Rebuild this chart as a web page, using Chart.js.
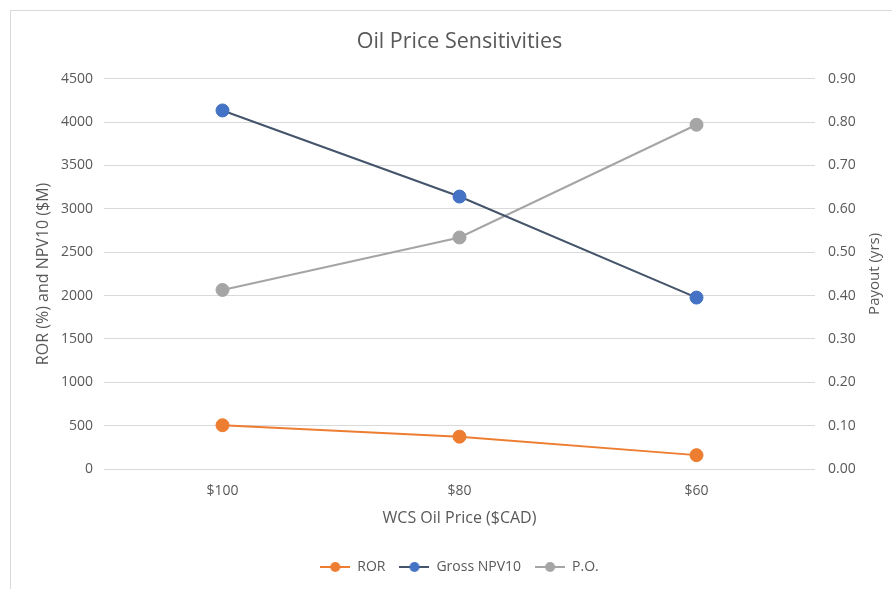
<!DOCTYPE html>
<html>
<head>
<meta charset="utf-8">
<script src="https://cdn.jsdelivr.net/npm/chart.js@4/dist/chart.umd.min.js"></script>
<style>
  html, body { margin: 0; padding: 0; background: #fff; overflow: hidden; }
  #frame { position: absolute; left: 10px; top: 10px; width: 900px; height: 600px;
           border: 1px solid #d9d9d9; box-sizing: border-box; }
  #wrap { position: absolute; left: 0; top: 0; width: 892px; height: 589px; }
</style>
</head>
<body>
<div id="frame"></div>
<div id="wrap"><canvas id="c"></canvas></div>
<script>
// Oil price cases on the x axis
const prices = ['$100', '$80', '$60'];
// Rate of return (%) per price case
const ror = [505, 373, 160];
// Gross NPV10 ($M) per price case
const npv10 = [4135, 3142, 1977];
// Payout (years) per price case
const payout = [0.413, 0.534, 0.794];

const FONT = "'Open Sans', 'Liberation Sans', sans-serif";
const TEXT = '#595959';
const GRID = '#d9d9d9';
const TICK_SIZE = 14;

// Legend swatch: short line with a dot in the middle
function swatch(lineColor, dotColor) {
  const cv = document.createElement('canvas');
  cv.width = 30; cv.height = 12;
  const g = cv.getContext('2d');
  g.strokeStyle = lineColor; g.lineWidth = 2;
  g.beginPath(); g.moveTo(0, 6); g.lineTo(30, 6); g.stroke();
  g.fillStyle = dotColor;
  g.beginPath(); g.arc(15, 6, 5, 0, Math.PI * 2); g.fill();
  return cv;
}

const series = [
  { label: 'ROR', data: ror, line: '#ED7D31', dot: '#ED7D31', axis: 'y' },
  { label: 'Gross NPV10', data: npv10, line: '#44546A', dot: '#4472C4', axis: 'y' },
  { label: 'P.O.', data: payout, line: '#A5A5A5', dot: '#A5A5A5', axis: 'y1' }
];

// Right axis title, read bottom-to-top
const rightTitle = {
  id: 'rightTitle',
  afterDraw(chart) {
    const { ctx, chartArea } = chart;
    ctx.save();
    ctx.translate(875, (chartArea.top + chartArea.bottom) / 2);
    ctx.rotate(-Math.PI / 2);
    ctx.font = '15px ' + FONT;
    ctx.fillStyle = TEXT;
    ctx.textAlign = 'center';
    ctx.textBaseline = 'middle';
    ctx.fillText('Payout (yrs)', 0, 0);
    ctx.restore();
  }
};

new Chart(document.getElementById('c'), {
  type: 'line',
  data: {
    labels: prices,
    datasets: series.map(s => ({
      label: s.label,
      data: s.data,
      yAxisID: s.axis,
      borderColor: s.line,
      backgroundColor: s.dot,
      pointBackgroundColor: s.dot,
      pointBorderColor: s.dot,
      borderWidth: 2,
      pointRadius: 6.5,
      pointHoverRadius: 6.5,
      pointBorderWidth: 1,
      tension: 0,
      fill: false
    }))
  },
  options: {
    responsive: true,
    maintainAspectRatio: false,
    animation: false,
    layout: { padding: { left: 0, right: 0, top: 0, bottom: 5 } },
    plugins: {
      tooltip: { enabled: false },
      title: {
        display: true,
        text: 'Oil Price Sensitivities',
        fullSize: false,
        color: TEXT,
        font: { family: FONT, size: 21.5, weight: 'normal' },
        padding: { top: 29, bottom: 24 }
      },
      legend: {
        position: 'bottom',
        fullSize: false,
        labels: {
          usePointStyle: true,
          pointStyleWidth: 30,
          color: TEXT,
          font: { family: FONT, size: TICK_SIZE },
          padding: 14,
          generateLabels(chart) {
            return series.map((s, i) => ({
              text: s.label,
              fillStyle: s.dot,
              strokeStyle: s.line,
              fontColor: TEXT,
              lineWidth: 0,
              pointStyle: swatch(s.line, s.dot),
              hidden: false,
              datasetIndex: i
            }));
          }
        }
      }
    },
    scales: {
      x: {
        type: 'category',
        offset: true,
        grid: { display: false, drawTicks: false },
        border: { display: false },
        ticks: { color: TEXT, font: { family: FONT, size: TICK_SIZE }, padding: 14 },
        title: {
          display: true,
          text: 'WCS Oil Price ($CAD)',
          color: TEXT,
          font: { family: FONT, size: 16 },
          padding: { top: 0, bottom: 18 }
        },
        afterFit(scale) { scale.height = 77; }
      },
      y: {
        position: 'left',
        min: 0,
        max: 4500,
        ticks: {
          stepSize: 500,
          color: TEXT,
          font: { family: FONT, size: TICK_SIZE },
          padding: 11,
          callback: v => String(v)
        },
        grid: { color: GRID, lineWidth: 1, drawTicks: false },
        border: { display: false },
        title: {
          display: true,
          text: 'ROR (%) and NPV10 ($M)',
          color: TEXT,
          font: { family: FONT, size: 16 },
          padding: { top: 34, bottom: 0 }
        },
        afterFit(scale) { scale.width = 104; }
      },
      y1: {
        position: 'right',
        min: 0,
        max: 0.9,
        ticks: {
          stepSize: 0.1,
          color: TEXT,
          font: { family: FONT, size: TICK_SIZE },
          padding: 13,
          callback: v => Number(v).toFixed(2)
        },
        grid: { display: false, drawTicks: false },
        border: { display: false },
        afterFit(scale) { scale.width = 77; }
      }
    }
  },
  plugins: [rightTitle]
});
</script>
</body>
</html>
